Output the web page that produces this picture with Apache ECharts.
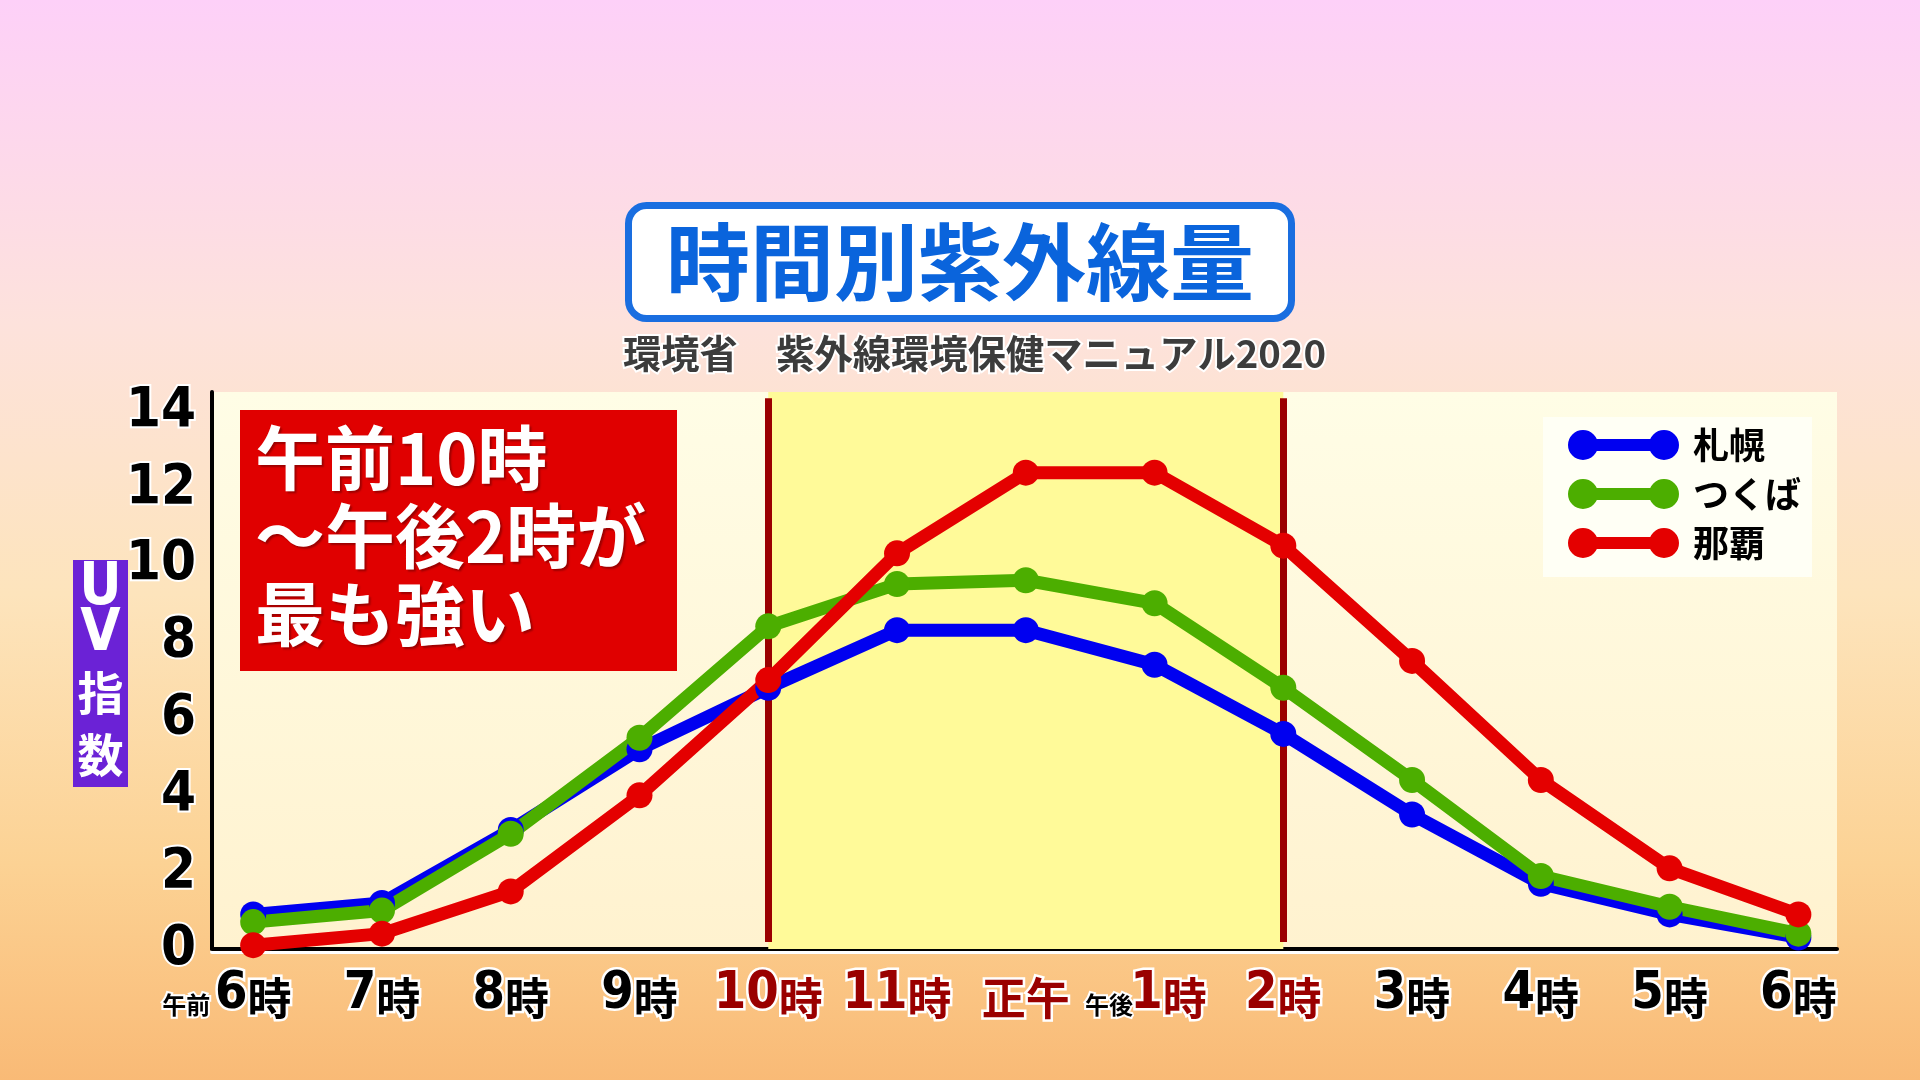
<!DOCTYPE html>
<html><head><meta charset="utf-8">
<script src="https://cdn.jsdelivr.net/npm/echarts@6/dist/echarts.min.js"></script>
<style>html,body{margin:0;padding:0;width:1920px;height:1080px;overflow:hidden}#c{width:1920px;height:1080px}</style>
</head><body><div id="c"></div>
<script>
// ---- data ----
const hours = ['6時','7時','8時','9時','10時','11時','正午','1時','2時','3時','4時','5時','6時'];
const hourPrefix = ['午前','','','','','','','午後','','','','',''];
const highlightIdx = [4,5,6,7,8];
const sapporo = [0.9,1.2,3.1,5.2,6.8,8.3,8.3,7.4,5.6,3.5,1.7,0.9,0.3];
const tsukuba = [0.7,1.0,3.0,5.5,8.4,9.5,9.6,9.0,6.8,4.4,1.9,1.1,0.4];
const naha    = [0.1,0.4,1.5,4.0,7.0,10.3,12.4,12.4,10.5,7.5,4.4,2.1,0.9];
const yTicks = [0,2,4,6,8,10,12,14];
const seriesNames = ['札幌','つくば','那覇'];
const bandRange = [4,8];
const titleText = '時間別紫外線量';
const subtitleText = '環境省　紫外線環境保健マニュアル2020';
const noteLines = ['午前10時','～午後2時が','最も強い'];
const yTitleChars = ['U','V','指','数'];

const CJK = '"Noto Sans CJK JP", sans-serif';
const NUM = '"Liberation Sans Narrow", "DejaVu Sans Condensed", "Noto Sans CJK JP", sans-serif';
const colors = ['#0000f0','#4cae00','#e40000'];
const prefixIdx = hourPrefix.map((p,i)=>p ? i : -1).filter(i=>i>=0);

function xLabel(v){
  const i = Math.round(v);
  const t = hours[i];
  const red = highlightIdx.indexOf(i) >= 0;
  let s = (i === 7) ? '{lp|}' : '';
  const m = t.match(/^(\d+)(.*)$/);
  if (m) s += '{' + (red?'dr':'d') + '|' + m[1] + '}{' + (red?'kr':'k') + '|' + m[2] + '}';
  else s += '{' + (red?'kr':'k') + '|' + t + '}';
  return s;
}
function prefixLabel(v){
  const i = Math.round(v);
  return '{p|' + hourPrefix[i] + '}{' + (i === 0 ? 'sa' : 'sb') + '|}';
}
const baseD = {fontFamily: NUM, fontSize: 52, fontWeight: 'bold', color: '#000', textBorderColor: '#fff', textBorderWidth: 5, lineHeight: 50, verticalAlign: 'bottom'};
const baseK = {fontFamily: CJK, fontSize: 44, fontWeight: 'bold', color: '#000', textBorderColor: '#fff', textBorderWidth: 5, lineHeight: 50, verticalAlign: 'bottom'};

function lineSeries(idx, values){
  return {
    name: seriesNames[idx], type: 'line', z: 5,
    data: values.map((v,i)=>[i,v]),
    symbol: 'circle', symbolSize: 26,
    lineStyle: {width: 13, color: colors[idx]},
    itemStyle: {color: colors[idx]},
    emphasis: {disabled: true}
  };
}

const chart = echarts.init(document.getElementById('c'));
chart.setOption({
  animation: false,
  backgroundColor: {type:'linear', x:0, y:0, x2:0, y2:1, colorStops:[
    {offset:0, color:'#fdd0f8'},{offset:0.3, color:'#fde2dc'},{offset:0.55, color:'#fde4bc'},
    {offset:0.8, color:'#fcd294'},{offset:1, color:'#f9ba76'}]},
  title: [
    {text: titleText, left: 'center', top: 205, backgroundColor: '#fff', borderColor: '#1a6ee0', borderWidth: 7, borderRadius: 18,
     padding: [11, 38], textStyle: {color: '#0a64dc', fontSize: 84, fontWeight: 'bold', fontFamily: CJK, lineHeight: 92}},
    {text: subtitleText, left: 623, top: 330, padding: 0,
     textStyle: {color: '#3c3c3c', fontSize: 38.3, fontWeight: 'bold', fontFamily: CJK, textBorderColor: '#fff', textBorderWidth: 4, lineHeight: 46}}
  ],
  legend: {
    data: seriesNames, orient: 'vertical', left: 1543, top: 417,
    backgroundColor: '#fffff5', padding: [10, 11, 16, 25],
    itemWidth: 111, itemHeight: 30, itemGap: 13,
    icon: 'path://M15,0 A15,15 0 1,0 15,30 A15,15 0 1,0 15,0 Z M96,0 A15,15 0 1,0 96,30 A15,15 0 1,0 96,0 Z M26,9 L26,21 L85,21 L85,9 Z',
    textStyle: {fontSize: 36, fontWeight: 'bold', color: '#000', fontFamily: CJK, padding: [0,0,0,9]},
    selectedMode: false
  },
  grid: {left: 212, right: 83, top: 392, bottom: 131, show: true, borderWidth: 0,
    backgroundColor: {type:'linear', x:0, y:0, x2:0, y2:1, colorStops:[{offset:0,color:'#fffde6'},{offset:1,color:'#fff2cf'}]}},
  xAxis: [{
    type: 'value', min: -0.32, max: 12.3, position: 'bottom',
    splitLine: {show: false}, axisTick: {show: false},
    axisLine: {onZero: true, lineStyle: {color: '#000', width: 4, shadowColor: '#fff', shadowOffsetY: 3}},
    axisLabel: {
      customValues: hours.map((h,i)=>i), margin: 21, formatter: xLabel,
      showMinLabel: true, showMaxLabel: true, hideOverlap: false,
      rich: {
        d: baseD, k: baseK,
        dr: Object.assign({}, baseD, {color: '#9a0000'}),
        kr: Object.assign({}, baseK, {color: '#9a0000'}),
        lp: {width: 28, lineHeight: 50}
      }
    }
  }, {
    type: 'value', min: -0.32, max: 12.3, position: 'bottom',
    splitLine: {show: false}, axisTick: {show: false}, axisLine: {show: false, onZero: true},
    axisLabel: {
      customValues: prefixIdx, margin: 21, formatter: prefixLabel, showMinLabel: true,
      rich: {
        p: {fontFamily: CJK, fontSize: 24, fontWeight: 'bold', color: '#000', textBorderColor: '#fff', textBorderWidth: 4, lineHeight: 50, verticalAlign: 'bottom', padding: [0,0,3,0]},
        sa: {width: 134, lineHeight: 50},
        sb: {width: 91, lineHeight: 50}
      }
    }
  }],
  yAxis: {
    type: 'value', min: 0, max: 14.5,
    splitLine: {show: false}, axisTick: {show: false},
    axisLine: {show: true, onZero: false, lineStyle: {color: '#000', width: 4}},
    axisLabel: {customValues: yTicks, margin: 16, fontFamily: NUM, fontSize: 56, fontWeight: 'bold', color: '#000',
      textBorderColor: '#fff', textBorderWidth: 4, showMinLabel: true, showMaxLabel: true}
  },
  series: [
    {type: 'line', name: 'band', data: [], z: 1, silent: true,
     markArea: {silent: true, itemStyle: {color: '#fffa99'}, data: [[{xAxis: bandRange[0]}, {xAxis: bandRange[1]}]]},
     markLine: {silent: true, symbol: 'none', label: {show: false}, lineStyle: {color: '#9b0000', width: 7, type: 'solid'},
       data: bandRange.map(x => [{coord: [x, 0.18]}, {coord: [x, 14.34]}])}},
    lineSeries(0, sapporo),
    lineSeries(1, tsukuba),
    lineSeries(2, naha)
  ],
  graphic: [
    {type: 'rect', z: 50, shape: {x: 240, y: 410, width: 437, height: 261}, style: {fill: '#e00000'}},
    {type: 'text', z: 51, x: 255, y: 419, style: {text: noteLines.join('\n'), fill: '#fff', fontSize: 70, fontWeight: 'bold', fontFamily: CJK,
      lineHeight: 78, align: 'left', verticalAlign: 'top', textShadowColor: 'rgba(110,0,0,0.6)', textShadowOffsetX: 2, textShadowOffsetY: 2, textShadowBlur: 2}},
    {type: 'rect', z: 50, shape: {x: 73, y: 560, width: 55, height: 227}, style: {fill: '#6b22d6'}},
    {type: 'text', z: 51, x: 100.5, y: 589, style: {text: yTitleChars[0], fill: '#fff', fontSize: 58, fontWeight: 'bold', fontFamily: NUM, align: 'center', verticalAlign: 'middle'}},
    {type: 'text', z: 51, x: 100.5, y: 635, style: {text: yTitleChars[1], fill: '#fff', fontSize: 58, fontWeight: 'bold', fontFamily: NUM, align: 'center', verticalAlign: 'middle'}},
    {type: 'text', z: 51, x: 100.5, y: 693, style: {text: yTitleChars[2], fill: '#fff', fontSize: 46, fontWeight: 'bold', fontFamily: CJK, align: 'center', verticalAlign: 'middle'}},
    {type: 'text', z: 51, x: 100.5, y: 755, style: {text: yTitleChars[3], fill: '#fff', fontSize: 46, fontWeight: 'bold', fontFamily: CJK, align: 'center', verticalAlign: 'middle'}}
  ]
});
</script></body></html>
